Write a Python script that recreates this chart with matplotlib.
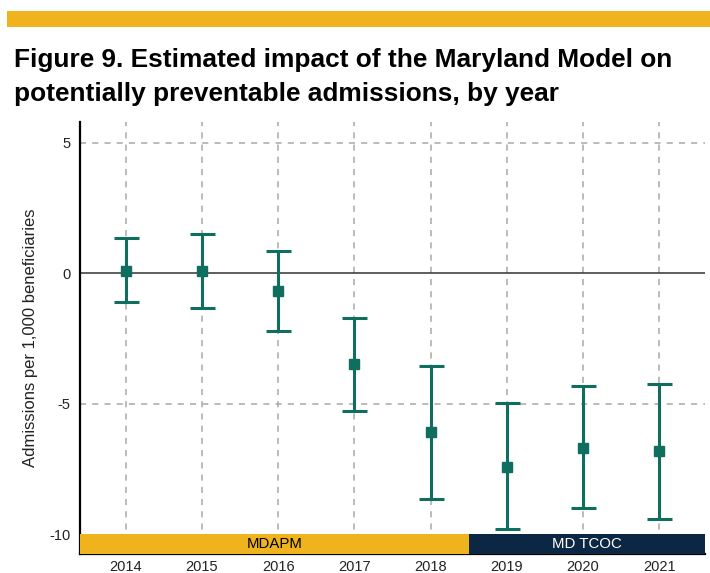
import matplotlib
matplotlib.use("Agg")
import matplotlib.pyplot as plt
from matplotlib.patches import Rectangle

years = [2014, 2015, 2016, 2017, 2018, 2019, 2020, 2021]
estimates = [0.11, 0.08, -0.66, -3.47, -6.09, -7.40, -6.67, -6.82]
upper = [1.34, 1.50, 0.87, -1.70, -3.55, -4.97, -4.31, -4.25]
lower = [-1.10, -1.32, -2.19, -5.29, -8.65, -9.81, -8.98, -9.39]
yticks = [5, 0, -5, -10]
periods = ["MDAPM", "MD TCOC"]
period_bounds = [(2013.4, 2018.5), (2018.5, 2021.6)]

title_lines = ["Figure 9. Estimated impact of the Maryland Model on",
               "potentially preventable admissions, by year"]
ylabel = "Admissions per 1,000 beneficiaries"

teal = "#0f6e5d"
gold = "#efb31d"
navy = "#0c2744"

plt.rcParams['font.family'] = ['Liberation Sans', 'DejaVu Sans']

fig = plt.figure(figsize=(7.10, 5.73), dpi=100)

# top gold bar
fig.add_artist(Rectangle((7/710, 1 - 27/573), 703/710, 16/573, transform=fig.transFigure,
                         facecolor=gold, edgecolor='none'))
for line, base in zip(title_lines, [67.5, 101]):
    fig.text(14/710, 1 - base/573, line, fontsize=18.9, fontweight='bold', color='black',
             ha='left', va='baseline')

ax = fig.add_axes([80/710, 1 - 554/573, 625/710, 432/573])
xmin, xmax = 2013.4, 2021.6
ymin, ymax = -10.75, 5.8
ax.set_xlim(xmin, xmax)
ax.set_ylim(ymin, ymax)

# grid
for x in years:
    ax.axvline(x, color='#a8a8a8', lw=1.1, ls=(0, (4, 4)), zorder=0)
for y in [5, -5]:
    ax.axhline(y, color='#a8a8a8', lw=1.1, ls=(0, (4, 4)), zorder=0)
ax.axhline(0, color='#333333', lw=1.1, zorder=1)

yerr = [[e - l for e, l in zip(estimates, lower)], [u - e for e, u in zip(estimates, upper)]]
ax.errorbar(years, estimates, yerr=yerr, fmt='s', color=teal, ecolor=teal,
            elinewidth=2.2, capsize=9, capthick=2.2, markersize=7.5, zorder=3)

# period band
colors = [gold, navy]
tcolors = ['black', 'white']
for (a, b), lab, c, tc in zip(period_bounds, periods, colors, tcolors):
    ax.add_patch(Rectangle((a, ymin), b - a, -10 - ymin, facecolor=c, edgecolor='none', zorder=4))
    ax.text((a + b) / 2, (-10 + ymin) / 2, lab, color=tc, fontsize=10.8, ha='center', va='center', zorder=5)

ax.set_yticks(yticks)
ax.set_yticklabels([str(v) for v in yticks])
ax.set_xticks(years)
ax.set_xticklabels([str(y) for y in years])
ax.tick_params(axis='both', length=0, labelsize=10.5, colors='#222222')
ax.tick_params(axis='x', pad=4)
ax.tick_params(axis='y', pad=7)
ax.set_ylabel(ylabel, fontsize=12, color='#222222', labelpad=8)

for s in ['top', 'right']:
    ax.spines[s].set_visible(False)
ax.spines['left'].set_linewidth(1.6)
ax.spines['bottom'].set_linewidth(1.6)

fig.savefig("out.png", dpi=100)
